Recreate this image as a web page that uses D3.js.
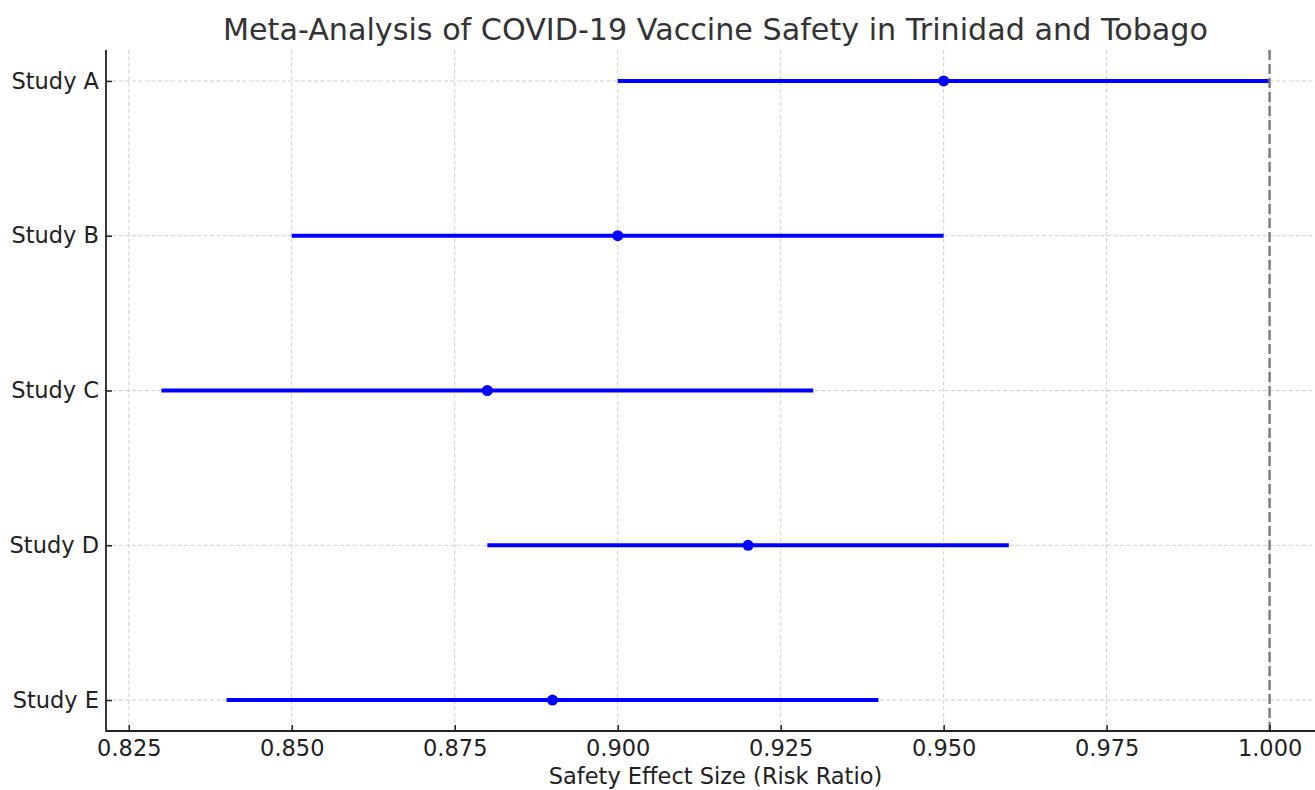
<!DOCTYPE html>
<html><head><meta charset="utf-8">
<script src="https://cdn.jsdelivr.net/npm/d3@7"></script>
<style>body{margin:0;background:#fff;overflow:hidden}svg{display:block;font-family:"DejaVu Sans",sans-serif}</style>
</head><body><svg id="c" width="1315" height="790"></svg>
<script>
const studies = ["Study A","Study B","Study C","Study D","Study E"];
const effects = [0.95,0.90,0.88,0.92,0.89];
const lower = [0.90,0.85,0.83,0.88,0.84];
const upper = [1.00,0.95,0.93,0.96,0.94];
const xTicks = [0.825,0.850,0.875,0.900,0.925,0.950,0.975,1.000];
const refValue = 1.0;

const svg = d3.select("#c");
const L=106, R=1325, T=50, B=731;
const x = d3.scaleLinear().domain([0.8215,1.0085]).range([L,R]);
const y = d3.scaleLinear().domain([-0.2,4.2]).range([T,B]);

// grid
svg.append("g").selectAll("line").data(xTicks).join("line")
  .attr("x1",d=>x(d)).attr("x2",d=>x(d)).attr("y1",T).attr("y2",B)
  .attr("stroke","#cfcfcf").attr("stroke-width",1).attr("stroke-dasharray","4,2.5");
svg.append("g").selectAll("line").data(studies).join("line")
  .attr("x1",L).attr("x2",R).attr("y1",(d,i)=>y(i)).attr("y2",(d,i)=>y(i))
  .attr("stroke","#cfcfcf").attr("stroke-width",1).attr("stroke-dasharray","4,2.5");

// CI lines
svg.append("g").selectAll("line").data(studies).join("line")
  .attr("x1",(d,i)=>x(lower[i])).attr("x2",(d,i)=>x(upper[i]))
  .attr("y1",(d,i)=>y(i)).attr("y2",(d,i)=>y(i))
  .attr("stroke","#0000ff").attr("stroke-width",4);
svg.append("g").selectAll("circle").data(studies).join("circle")
  .attr("cx",(d,i)=>x(effects[i])).attr("cy",(d,i)=>y(i)).attr("r",5.5)
  .attr("fill","#0000ff");

// reference line
svg.append("line").attr("x1",x(refValue)).attr("x2",x(refValue)).attr("y1",T).attr("y2",B)
  .attr("stroke","#7f7f7f").attr("stroke-width",2.5).attr("stroke-dasharray","10,4");

// axes (ticks pointing inward)
const xAxis = d3.axisBottom(x).tickValues(xTicks).tickFormat(d3.format(".3f")).tickSizeOuter(0).tickSize(-6).tickPadding(9);
const gx = svg.append("g").attr("transform",`translate(0,${B})`).call(xAxis);
gx.select(".domain").remove();
gx.selectAll(".tick line").attr("stroke","#222").attr("stroke-width",1.5);
gx.selectAll("text").attr("font-size",22.5).attr("fill","#222").attr("font-family","DejaVu Sans");

const yAxis = d3.axisLeft(y).tickValues(d3.range(studies.length)).tickFormat(i=>studies[i]).tickSizeOuter(0).tickSize(-6).tickPadding(7);
const gy = svg.append("g").attr("transform",`translate(${L},0)`).call(yAxis);
gy.select(".domain").remove();
gy.selectAll(".tick line").attr("stroke","#222").attr("stroke-width",1.5);
gy.selectAll("text").attr("font-size",22.5).attr("fill","#222").attr("font-family","DejaVu Sans");

// spines
svg.append("line").attr("x1",L).attr("x2",L).attr("y1",T).attr("y2",B+0.75).attr("stroke","#222").attr("stroke-width",1.8);
svg.append("line").attr("x1",L).attr("x2",R).attr("y1",B).attr("y2",B).attr("stroke","#222").attr("stroke-width",1.8);

// labels
svg.append("text").attr("x",(L+R)/2).attr("y",40).attr("text-anchor","middle")
  .attr("font-size",30.2).attr("fill","#333").text("Meta-Analysis of COVID-19 Vaccine Safety in Trinidad and Tobago");
svg.append("text").attr("x",(L+R)/2).attr("y",784).attr("text-anchor","middle")
  .attr("font-size",22.5).attr("fill","#222").text("Safety Effect Size (Risk Ratio)");
</script></body></html>
